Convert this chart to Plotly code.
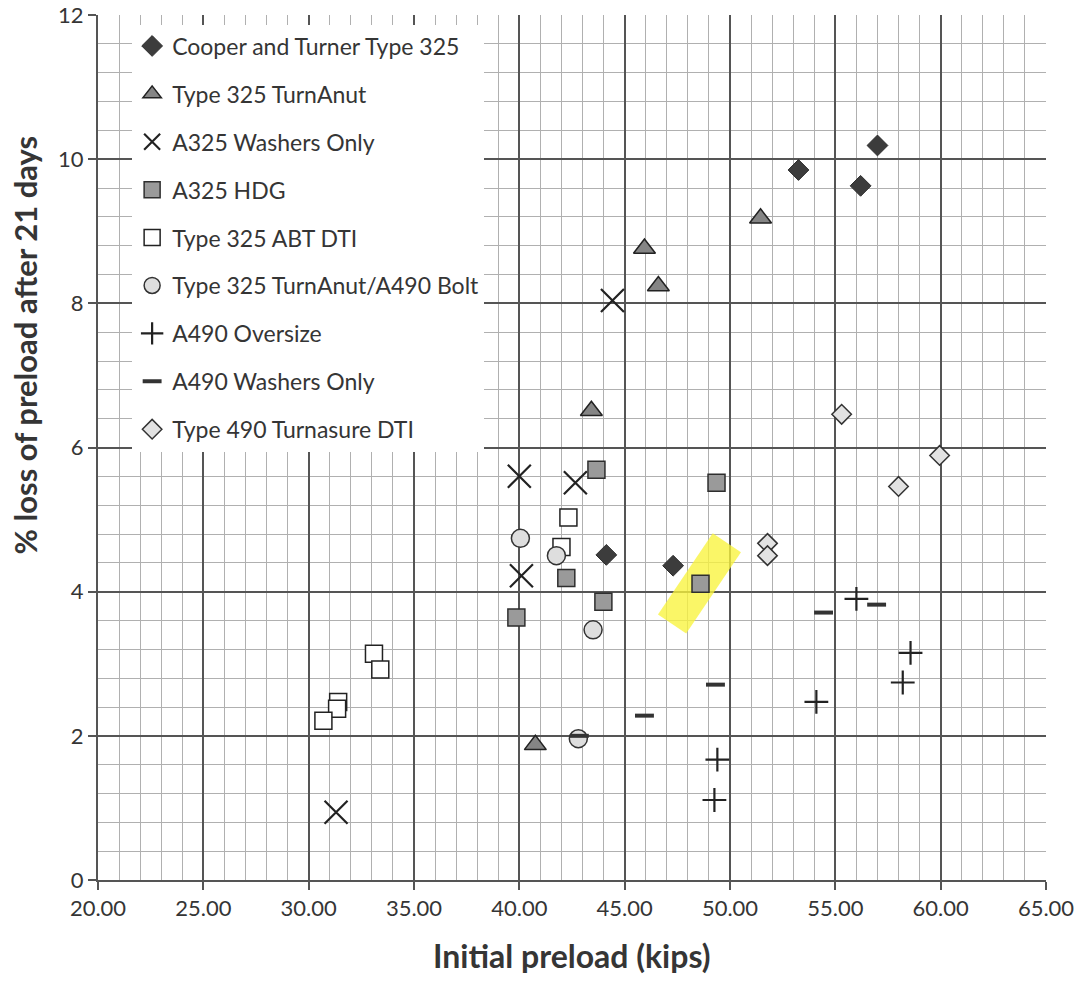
import plotly.graph_objects as go

# ---------------- data ----------------
cooper_x = [57.0, 53.25, 56.2, 44.13, 47.3]
cooper_y = [10.19, 9.85, 9.63, 4.51, 4.36]

turnanut_x = [51.45, 45.94, 46.6, 43.42, 40.76]
turnanut_y = [9.18, 8.76, 8.24, 6.51, 1.875]

a325w_x = [44.42, 40.0, 42.66, 40.1, 31.3]
a325w_y = [8.04, 5.6, 5.51, 4.22, 0.94]

hdg_x = [43.66, 49.36, 42.23, 48.6, 43.99, 39.86]
hdg_y = [5.69, 5.51, 4.19, 4.11, 3.86, 3.64]

abt_x = [42.33, 42.0, 33.1, 33.4, 31.4, 31.35, 30.7]
abt_y = [5.03, 4.62, 3.14, 2.92, 2.47, 2.375, 2.21]

tab_x = [40.05, 41.76, 43.5, 42.8]
tab_y = [4.74, 4.5, 3.47, 1.96]

a490o_x = [56.0, 58.57, 58.2, 54.1, 49.4, 49.26]
a490o_y = [3.9, 3.15, 2.74, 2.47, 1.67, 1.11]

a490w_x = [54.44, 56.96, 49.31, 45.94, 42.85]
a490w_y = [3.71, 3.82, 2.71, 2.28, 2.0]

t490_x = [55.3, 59.95, 58.0, 51.78, 51.78]
t490_y = [6.46, 5.89, 5.46, 4.67, 4.5]

# highlighter stroke (hand-drawn mark over one A325 HDG point)
hl_x = [47.25, 49.85]
hl_y = [3.55, 4.68]

x_ticks = [20, 25, 30, 35, 40, 45, 50, 55, 60, 65]
y_ticks = [0, 2, 4, 6, 8, 10, 12]

FONT = "Lato"
TXT = "#353535"

fig = go.Figure()

# highlighter
fig.add_trace(go.Scatter(
    x=hl_x, y=hl_y, mode="lines", showlegend=False, hoverinfo="skip",
    line=dict(color="rgba(248,244,60,0.78)", width=34),
))

def add(name, xs, ys, symbol, size, fill, lc, lw, grp):
    fig.add_trace(go.Scatter(
        x=xs, y=ys, mode="markers", name=name, legendgroup=grp,
        marker=dict(symbol=symbol, size=size, color=fill,
                    line=dict(color=lc, width=lw)),
    ))

add("Cooper and Turner Type 325", cooper_x, cooper_y, "diamond", 16, "#3c3c3c", "#2e2e2e", 1, "g1")
add("Type 325 TurnAnut", turnanut_x, turnanut_y, "triangle-up", 19, "#858585", "#222222", 1.5, "g2")
add("A325 Washers Only", a325w_x, a325w_y, "x-thin", 23, "#222222", "#222222", 2.2, "g3")
add("A325 HDG", hdg_x, hdg_y, "square", 17, "#9a9a9a", "#2e2e2e", 1.5, "g4")
add("Type 325 ABT DTI", abt_x, abt_y, "square", 17, "#ffffff", "#222222", 1.5, "g5")
add("Type 325 TurnAnut/A490 Bolt", tab_x, tab_y, "circle", 18, "#dedede", "#333333", 1.5, "g6")
add("A490 Oversize", a490o_x, a490o_y, "cross-thin", 17, "#222222", "#222222", 2.2, "g7")
add("A490 Washers Only", a490w_x, a490w_y, "line-ew", 13.5, "#333333", "#333333", 4, "g8")
add("Type 490 Turnasure DTI", t490_x, t490_y, "diamond", 15, "#e2e2e2", "#333333", 1.5, "g9")

fig.update_layout(
    width=1081, height=981,
    margin=dict(l=98, r=35, t=15, b=101),
    paper_bgcolor="white", plot_bgcolor="white",
    font=dict(family=FONT, color=TXT, size=20),
    legend=dict(
        x=0.036, y=0.989, xanchor="left", yanchor="top",
        bgcolor="white", borderwidth=0,
        font=dict(family=FONT, size=23, color=TXT),
        traceorder="grouped", tracegroupgap=15,
        itemwidth=30,
    ),
    xaxis=dict(
        range=[20, 65], tickvals=x_ticks, tickformat=".2f", automargin=False,
        showgrid=True, gridcolor="#555555", gridwidth=1.5,
        minor=dict(dtick=1, showgrid=True, gridcolor="#b0b0b0", gridwidth=1.2),
        showline=True, linecolor="#555555", linewidth=2,
        ticks="outside", ticklen=8, tickcolor="#555555", tickwidth=1.5,
        tickfont=dict(family=FONT, size=22, color=TXT),
        zeroline=False,
    ),
    yaxis=dict(
        range=[0, 12], tickvals=y_ticks, automargin=False,
        showgrid=True, gridcolor="#555555", gridwidth=1.5,
        minor=dict(dtick=0.4, showgrid=True, gridcolor="#b0b0b0", gridwidth=1.2),
        showline=True, linecolor="#555555", linewidth=2,
        ticks="outside", ticklen=8, tickcolor="#555555", tickwidth=1.5,
        tickfont=dict(family=FONT, size=22, color=TXT),
        zeroline=False,
    ),
    annotations=[
        dict(
            text="<b>% loss of preload after 21 days</b>",
            xref="paper", yref="paper", x=-0.077, y=0.618,
            xanchor="center", yanchor="middle", textangle=-90, showarrow=False,
            font=dict(family=FONT, size=31, color=TXT),
        ),
        dict(
            text="<b>Initial preload (kips)</b>",
            xref="paper", yref="paper", x=0.5, y=-0.087,
            xanchor="center", yanchor="middle", showarrow=False,
            font=dict(family=FONT, size=32, color=TXT),
        ),
    ],
)

fig.write_html("out.html")
